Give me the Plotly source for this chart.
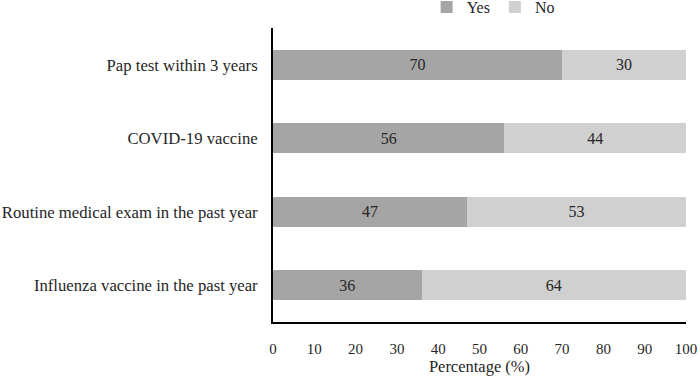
import plotly.graph_objects as go

categories = ["Pap test within 3 years", "COVID-19 vaccine",
              "Routine medical exam in the past year", "Influenza vaccine in the past year"]
yes_vals = [70, 56, 47, 36]
no_vals = [30, 44, 53, 64]
x_ticks = [0, 10, 20, 30, 40, 50, 60, 70, 80, 90, 100]

FAM = "Liberation Serif, Times New Roman, serif"
TXT = "#262626"

fig = go.Figure()
fig.add_trace(go.Bar(y=categories, x=yes_vals, name="Yes", orientation="h",
                     marker=dict(color="#a5a5a5", line=dict(width=0)),
                     text=[str(v) for v in yes_vals], textposition="inside",
                     insidetextanchor="middle", textfont=dict(color=TXT, size=16),
                     width=0.41))
fig.add_trace(go.Bar(y=categories, x=no_vals, name="No", orientation="h",
                     marker=dict(color="#d0d0d0", line=dict(width=0)),
                     text=[str(v) for v in no_vals], textposition="inside",
                     insidetextanchor="middle", textfont=dict(color=TXT, size=16),
                     width=0.41))

fig.update_layout(
    barmode="stack",
    width=700, height=376,
    paper_bgcolor="white", plot_bgcolor="white",
    font=dict(family=FAM, size=16, color=TXT),
    margin=dict(l=273, r=14, t=28, b=54, autoexpand=False),
    uniformtext=dict(mode="show", minsize=10),
    showlegend=True,
    legend=dict(orientation="h", x=0.533, xanchor="center", y=0.981, yanchor="middle",
                yref="container", font=dict(size=16), itemwidth=30,
                traceorder="normal", bgcolor="rgba(0,0,0,0)"),
    xaxis=dict(range=[0, 100], tickvals=x_ticks, showgrid=False, zeroline=False,
               showline=True, linecolor="black", linewidth=2, ticks="",
               tickfont=dict(size=15),
               title=dict(text="Percentage (%)", standoff=4, font=dict(size=16.5)),
               ticklabelstandoff=12, automargin=False),
    yaxis=dict(categoryorder="array", categoryarray=categories[::-1],
               showgrid=False, showline=True, linecolor="black", linewidth=2, ticks="",
               tickfont=dict(size=16.7),
               ticklabelstandoff=10, range=[-0.5, 3.5], automargin=False),
)
fig.write_html("out.html", config={"displayModeBar": False},
               post_script="document.body.style.margin='0';")
